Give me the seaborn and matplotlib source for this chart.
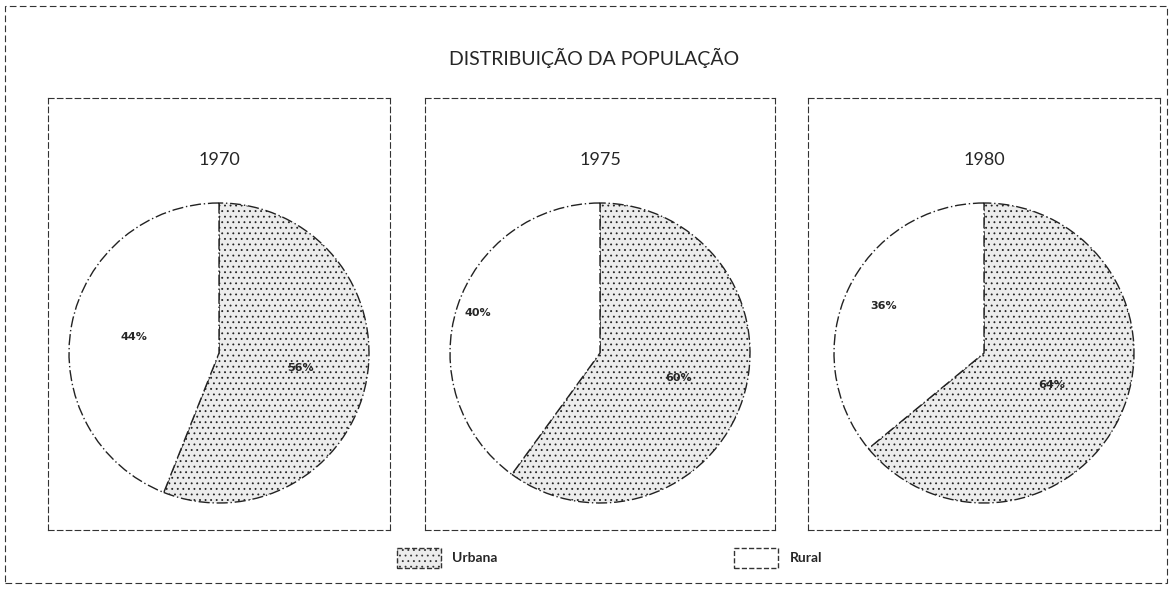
import matplotlib
matplotlib.use("Agg")
import numpy as np
import matplotlib.pyplot as plt
from matplotlib.patches import Patch, Rectangle
import seaborn as sns

sns.set_theme(style="white")
plt.rcParams['font.family'] = ['Lato', 'DejaVu Sans']
plt.rcParams['hatch.color'] = '#8a8a8a'
plt.rcParams['hatch.linewidth'] = 0.6

### data
years = ['1970', '1975', '1980']
urbana = [56, 60, 64]
rural = [44, 40, 36]
categories = ['Urbana', 'Rural']

# label radius (fraction of pie radius) per pie: urbana, rural
urb_r = [0.55, 0.55, 0.5]
rur_r = [0.58, 0.86, 0.74]

urb_color = '#ececec'
rur_color = 'white'

fig = plt.figure(figsize=(11.72, 5.89), dpi=100)

# outer dashed frame
fig.patches.append(Rectangle((5 / 1172, 6 / 589), 1162 / 1172, 577 / 589,
                             transform=fig.transFigure, fill=False,
                             ec='#333333', lw=0.8, ls=(0, (6, 3))))

fig.text(0.507, 0.902, 'DISTRIBUIÇÃO DA POPULAÇÃO', ha='center', va='center',
         fontsize=14)

# panel boxes in pixels (left, width)
panels = [(48, 342), (425, 350), (808, 352)]
top_px, bottom_px = 98, 530

for i, ((left, width), year, u, r) in enumerate(zip(panels, years, urbana, rural)):
    ax = fig.add_axes([left / 1172, (589 - bottom_px) / 589,
                       width / 1172, (bottom_px - top_px) / 589])
    wedges, texts, autotexts = ax.pie(
        [u, r], colors=[urb_color, rur_color], startangle=90,
        counterclock=False, autopct='%d%%', pctdistance=0.6,
        wedgeprops={'edgecolor': '#222222', 'linewidth': 1.0,
                    'linestyle': (0, (8, 2, 1, 2))},
        textprops={'fontsize': 8, 'fontweight': 'bold',
                   'family': 'DejaVu Sans'})
    wedges[0].set_hatch('...')
    for w, t, rad in zip(wedges, autotexts, [urb_r[i], rur_r[i]]):
        ang = np.deg2rad((w.theta1 + w.theta2) / 2)
        t.set_position((rad * np.cos(ang), rad * np.sin(ang)))
    # radius 150 px => scale
    half_w = width / 2 / 150
    ax.set_xlim(-half_w, half_w)
    ax.set_ylim(-(bottom_px - 353) / 150, (353 - top_px) / 150)
    ax.set_aspect('auto')
    ax.set_frame_on(True)
    for sp in ax.spines.values():
        sp.set_visible(True)
        sp.set_linestyle((0, (5, 3)))
        sp.set_linewidth(0.8)
        sp.set_edgecolor('#333333')
    ax.set_xticks([])
    ax.set_yticks([])
    ax.text(0, (353 - 160) / 150, year, ha='center', va='center', fontsize=13)

handles = [Patch(facecolor=urb_color, edgecolor='#333333', hatch='...',
                 ls='--', label=categories[0]),
           Patch(facecolor=rur_color, edgecolor='#333333', ls='--',
                 label=categories[1])]
fig.legend(handles=handles, loc='center', bbox_to_anchor=(0.52, 0.053),
           ncol=2, frameon=False, handlelength=3.2,
           handleheight=1.8, columnspacing=17, handletextpad=0.8,
           prop={'weight': 'bold', 'size': 10})

plt.savefig('out.png', dpi=100)
